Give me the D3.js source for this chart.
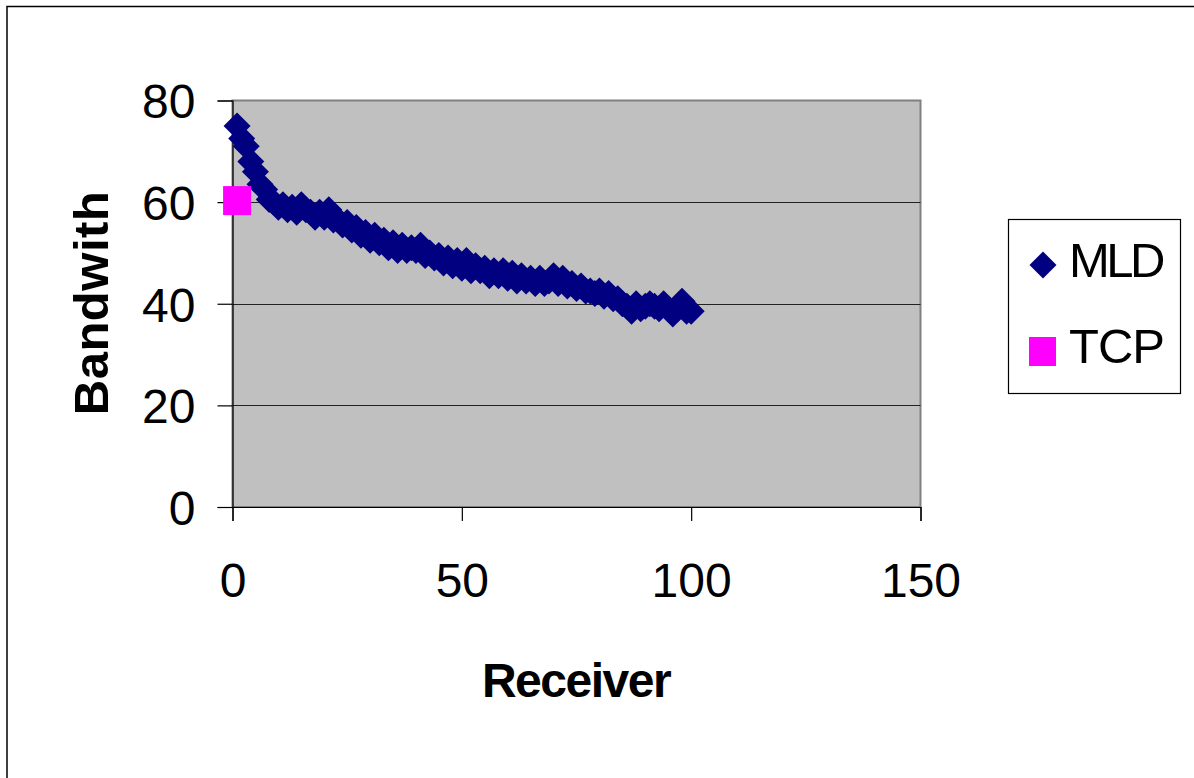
<!DOCTYPE html>
<html>
<head>
<meta charset="utf-8">
<script src="https://cdn.jsdelivr.net/npm/d3@7"></script>
<style>
  body { margin: 0; background: #fff; }
  text { font-family: "Liberation Sans", Arial, sans-serif; }
</style>
</head>
<body>
<div id="chart"></div>
<script>
const W = 1194, H = 778;

// receivers 1..100
const mld_x = d3.range(1, 101);
const mld_y = [
  75, 72.5, 71, 68, 66, 63.5, 62.5, 60.5, 60, 59,
  59.5, 58.5, 59, 58, 59.5, 58.5, 58, 57, 58, 57,
  58.5, 56.5, 56.5, 55.5, 56, 54.5, 55, 53.5, 54, 52.5,
  53.5, 52, 52.5, 51, 52, 50.5, 51.5, 50.5, 51, 50.5,
  51.5, 49.5, 50, 49, 49.5, 48, 49, 47.5, 48.5, 47,
  48.5, 46.5, 47.5, 46.5, 47, 45.5, 46.5, 45.5, 46.5, 45,
  46, 44.5, 45.5, 44.5, 45, 44, 45, 44, 44.5, 45.5,
  44, 45, 43.5, 44, 43, 43.5, 42.5, 42.5, 42, 42.5,
  41.5, 42, 41, 41, 40, 39.5, 38.5, 40, 39, 39.5,
  40, 39.5, 39, 40, 39, 38, 39, 40.5, 38.5, 38.5
];
const tcp_x = [1];
const tcp_y = [60.3];

const x_ticks = [0, 50, 100, 150];
const y_ticks = [0, 20, 40, 60, 80];
const series_names = ["MLD", "TCP"];

const plot = {left: 232.5, right: 920.5, top: 100.5, bottom: 507};

const svg = d3.select("#chart").append("svg")
  .attr("width", W)
  .attr("height", H);

// outer chart frame (runs off right/bottom edges)
svg.append("rect")
  .attr("x", 7).attr("y", 6.5)
  .attr("width", W + 10).attr("height", H + 10)
  .attr("fill", "#fff")
  .attr("stroke", "#000")
  .attr("stroke-width", 1.5);

const x = d3.scaleLinear().domain([0, 150]).range([plot.left, plot.right]);
const y = d3.scaleLinear().domain([0, 80]).range([plot.bottom, plot.top]);

// plot background
svg.append("rect")
  .attr("x", plot.left).attr("y", plot.top)
  .attr("width", plot.right - plot.left)
  .attr("height", plot.bottom - plot.top)
  .attr("fill", "#c0c0c0")
  .attr("stroke", "#808080")
  .attr("stroke-width", 2);

// gridlines
svg.append("g")
  .selectAll("line")
  .data(y_ticks.filter(d => d > 0 && d < 80))
  .join("line")
    .attr("x1", plot.left).attr("x2", plot.right)
    .attr("y1", d => Math.round(y(d)) + 0.5)
    .attr("y2", d => Math.round(y(d)) + 0.5)
    .attr("stroke", "#222")
    .attr("stroke-width", 1.2);

// axes
const yAxis = svg.append("g")
  .attr("transform", `translate(${plot.left},0)`)
  .call(d3.axisLeft(y).tickValues(y_ticks).tickSize(15).tickPadding(22));
const xAxis = svg.append("g")
  .attr("transform", `translate(0,${plot.bottom})`)
  .call(d3.axisBottom(x).tickValues(x_ticks).tickSize(14).tickPadding(42));

[yAxis, xAxis].forEach(a => {
  a.select(".domain").attr("stroke", "#000").attr("stroke-width", 1.2);
  a.selectAll(".tick line").attr("stroke", "#000").attr("stroke-width", 1.2);
  a.selectAll(".tick text")
    .attr("font-family", "Liberation Sans, Arial, sans-serif")
    .attr("font-size", 48)
    .attr("fill", "#000");
});
yAxis.selectAll(".tick text").attr("dy", "0.36em");

// axis titles
svg.append("text")
  .attr("x", 576).attr("y", 697)
  .attr("text-anchor", "middle")
  .attr("font-size", 48)
  .attr("font-weight", "bold")
  .attr("letter-spacing", -1.5)
  .text("Receiver");

svg.append("text")
  .attr("transform", "translate(108,303) rotate(-90)")
  .attr("text-anchor", "middle")
  .attr("font-size", 49)
  .attr("font-weight", "bold")
  .attr("letter-spacing", 0.5)
  .text("Bandwith");

// markers
const diamond = "M0,-13.5L13.5,0L0,13.5L-13.5,0Z";
const mld = mld_x.map((d, i) => ({x: d, y: mld_y[i]}));
const tcp = tcp_x.map((d, i) => ({x: d, y: tcp_y[i]}));

svg.append("g")
  .selectAll("path")
  .data(mld)
  .join("path")
    .attr("d", diamond)
    .attr("transform", d => `translate(${x(d.x)},${y(d.y)})`)
    .attr("fill", "#000080");

svg.append("g")
  .selectAll("rect")
  .data(tcp)
  .join("rect")
    .attr("x", d => x(d.x) - 14)
    .attr("y", d => y(d.y) - 14.5)
    .attr("width", 28)
    .attr("height", 29)
    .attr("fill", "#ff00ff");

// legend
const legend = svg.append("g");
legend.append("rect")
  .attr("x", 1008.5).attr("y", 219.5)
  .attr("width", 172).attr("height", 174)
  .attr("fill", "#fff")
  .attr("stroke", "#000")
  .attr("stroke-width", 1.2);

legend.append("path")
  .attr("d", diamond)
  .attr("transform", "translate(1043,265)")
  .attr("fill", "#000080");
legend.append("rect")
  .attr("x", 1029).attr("y", 337)
  .attr("width", 27).attr("height", 29)
  .attr("fill", "#ff00ff");

legend.selectAll("text")
  .data(series_names)
  .join("text")
    .attr("x", 1069)
    .attr("y", (d, i) => 277 + i * 86)
    .attr("font-size", 49)
    .attr("letter-spacing", (d, i) => i === 0 ? -3.5 : -1)
    .text(d => d);
</script>
</body>
</html>
